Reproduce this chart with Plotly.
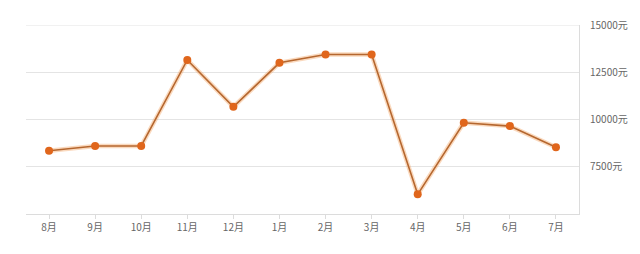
import plotly.graph_objects as go

months = ["8月", "9月", "10月", "11月", "12月", "1月", "2月", "3月", "4月", "5月", "6月", "7月"]
prices = [8350, 8600, 8600, 13150, 10670, 13000, 13440, 13440, 6040, 9830, 9650, 8530]
ytick_vals = [7500, 10000, 12500, 15000]
ytick_text = ["7500元", "10000元", "12500元", "15000元"]

fig = go.Figure()
# soft halo under the line
fig.add_trace(go.Scatter(x=months, y=prices, mode="lines",
                         line=dict(color="rgba(245,170,110,0.45)", width=4.5),
                         hoverinfo="skip", showlegend=False))
fig.add_trace(go.Scatter(x=months, y=prices, mode="lines+markers",
                         line=dict(color="#b5672f", width=1.6),
                         marker=dict(color="#e0661c", size=8),
                         showlegend=False))

# top gridline (at the upper edge of the plot)
fig.add_shape(type="line", xref="paper", yref="y", x0=0, x1=1, y0=ytick_vals[-1], y1=ytick_vals[-1],
              line=dict(color="#e4e4e4", width=1), layer="below")

fig.update_layout(
    width=640, height=254,
    margin=dict(l=26, r=57, t=25, b=40),
    paper_bgcolor="white", plot_bgcolor="white",
    font=dict(family="Noto Sans CJK SC", size=10, color="#666666"),
    xaxis=dict(type="category", range=[-0.5, 11.5], showgrid=False,
               showline=True, linecolor="#dcdcdc", linewidth=1,
               ticks="outside", ticklen=4, tickcolor="#dcdcdc",
               tickfont=dict(size=10, color="#666666"), zeroline=False),
    yaxis=dict(side="right", range=[5000, 15000], tickvals=ytick_vals, ticktext=ytick_text,
               showgrid=True, gridcolor="#e4e4e4", gridwidth=1,
               showline=True, linecolor="#dcdcdc", linewidth=1, mirror=False,
               ticks="", ticklabelstandoff=8, zeroline=False,
               tickfont=dict(size=10, color="#666666")),
)

fig.write_html("out.html")
